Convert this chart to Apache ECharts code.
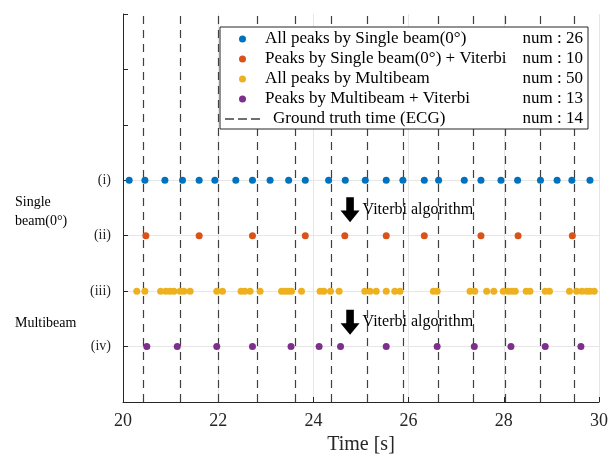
<!DOCTYPE html>
<html><head><meta charset="utf-8">
<script src="https://cdn.jsdelivr.net/npm/echarts@6/dist/echarts.min.js"></script>
<style>html,body{margin:0;padding:0;background:#fff}#c{width:611px;height:454px}</style>
</head><body><div id="c"></div>
<script>
// ---- data ----
const seriesNames = ['All peaks by Single beam(0°)', 'Peaks by Single beam(0°) + Viterbi', 'All peaks by Multibeam', 'Peaks by Multibeam + Viterbi', 'Ground truth time (ECG)'];
const seriesCounts = [26, 10, 50, 13, 14];
const rowLabels = {1: '(iv)', 2: '(iii)', 3: '(ii)', 4: '(i)'};
const rowLevels = [4, 3, 2, 1];
const singleAll = [20.13, 20.46, 20.88, 21.25, 21.60, 21.93, 22.37, 22.72, 23.09, 23.48, 23.83, 24.32, 24.67, 25.09, 25.53, 25.88, 26.33, 26.63, 27.17, 27.52, 27.94, 28.29, 28.77, 29.12, 29.43, 29.81];
const singleViterbi = [20.48, 21.60, 22.72, 23.83, 24.66, 25.53, 26.33, 27.52, 28.30, 29.44];
const multiAll = [20.29, 20.46, 20.79, 20.90, 20.99, 21.07, 21.20, 21.28, 21.41, 21.97, 22.09, 22.48, 22.56, 22.67, 22.88, 23.33, 23.40, 23.47, 23.54, 23.75, 24.14, 24.22, 24.36, 24.54, 25.08, 25.19, 25.32, 25.53, 25.71, 25.82, 26.52, 26.60, 27.29, 27.39, 27.64, 27.79, 27.99, 28.09, 28.17, 28.24, 28.47, 28.55, 28.87, 28.96, 29.38, 29.53, 29.64, 29.74, 29.81, 29.90];
const multiViterbi = [20.50, 21.14, 21.97, 22.72, 23.53, 24.12, 24.57, 25.53, 26.60, 27.38, 28.15, 28.87, 29.62];
const groundTruth = [20.43, 21.20, 22.00, 22.81, 23.61, 24.38, 25.13, 25.89, 26.62, 27.35, 28.03, 28.76, 29.47];
const arrowX = [24.77, 24.77];
const arrowY = [3.47, 1.44];
const arrowText = 'Viterbi algorithm';
const xTicks = {min: 20, max: 30, step: 2};

// ---- chart ----
const colors = ['#0072BD', '#D95319', '#EDB120', '#7E2F8E', '#404040'];
const FONT = '"Liberation Serif", "DejaVu Serif", serif';
const rows = [singleAll, singleViterbi, multiAll, multiViterbi];

const series = rows.map((arr, i) => ({
  name: seriesNames[i], type: 'scatter', symbol: 'circle', symbolSize: 7,
  itemStyle: {color: colors[i], opacity: 1},
  data: arr.map(t => [t, rowLevels[i]]), z: 5
}));
series.push({
  name: seriesNames[4], type: 'line', data: [], color: colors[4], z: 2,
  lineStyle: {color: colors[4]},
  markLine: {
    silent: true, symbol: ['none', 'none'], label: {show: false},
    lineStyle: {color: colors[4], type: [8, 6], width: 1.2, opacity: 1},
    emphasis: {disabled: true},
    data: groundTruth.map(t => ({xAxis: t}))
  }
});
series.push({
  name: 'annot', type: 'scatter', silent: true,
  symbol: 'path://M6,0 H14 V14 H20 L10,26 L0,14 H6 Z', symbolSize: [19, 25],
  itemStyle: {color: '#000', opacity: 1},
  label: {show: true, position: 'right', distance: 3, formatter: arrowText, color: '#000', fontFamily: FONT, fontSize: 16, opacity: 1},
  data: arrowX.map((x, i) => [x, arrowY[i]]), z: 6
});

const dashIcon = 'path://M0,0h9v1.6h-9z M13,0h9v1.6h-9z M26,0h9v1.6h-9z';
const legendData = seriesNames.map((n, i) => ({name: n, icon: i < 4 ? 'circle' : dashIcon}));

const chart = echarts.init(document.getElementById('c'), null, {renderer: 'canvas'});
chart.setOption({
  animation: false,
  backgroundColor: '#fff',
  grid: {left: 123, right: 12, top: 14, bottom: 52, containLabel: false, outerBoundsMode: 'none'},
  xAxis: {
    type: 'value', min: xTicks.min, max: xTicks.max, interval: xTicks.step,
    name: 'Time [s]', nameLocation: 'middle', nameGap: 33,
    nameTextStyle: {fontFamily: FONT, fontSize: 20, color: '#262626'},
    axisLine: {show: true, onZero: false, lineStyle: {color: '#262626', width: 1}},
    axisTick: {show: true, inside: true, length: 5, lineStyle: {color: '#262626'}},
    axisLabel: {fontFamily: FONT, fontSize: 18, color: '#262626', margin: 10},
    splitLine: {show: true, lineStyle: {color: '#e6e6e6', width: 1}}
  },
  yAxis: {
    type: 'value', min: 0, max: 7, interval: 1,
    axisLine: {show: true, lineStyle: {color: '#262626', width: 1}},
    axisTick: {show: true, inside: true, length: 5, lineStyle: {color: '#262626'}},
    axisLabel: {fontFamily: FONT, fontSize: 14, color: '#262626', margin: 12,
      formatter: v => rowLabels[v] || ''},
    splitLine: {show: true, lineStyle: {color: ['transparent', '#e6e6e6', '#e6e6e6', '#e6e6e6', '#e6e6e6', 'transparent', 'transparent', 'transparent'], width: 1}}
  },
  legend: {
    z: 100, zlevel: 1,
    data: legendData, orient: 'vertical', left: 220, top: 27,
    padding: [2, 5, 0, 5], itemGap: 0, itemWidth: 35, itemHeight: 7,
    borderColor: '#262626', borderWidth: 1, backgroundColor: '#fff',
    selectedMode: false,
    textStyle: {fontFamily: FONT, fontSize: 17, color: '#000', lineHeight: 20,
      rich: {
        a: {fontFamily: FONT, fontSize: 17, width: 256, lineHeight: 20},
        g: {fontFamily: FONT, fontSize: 17, width: 248, padding: [0, 0, 0, 8], lineHeight: 20},
        b: {fontFamily: FONT, fontSize: 17, width: 62, align: 'right', lineHeight: 20}
      }},
    formatter: name => {
      const i = seriesNames.indexOf(name);
      return (i === 4 ? '{g|' : '{a|') + name + '}{b|num : ' + seriesCounts[i] + '}';
    }
  },
  graphic: [
    {type: 'text', left: 15, top: 193, style: {text: 'Single\nbeam(0°)', font: '14px ' + FONT, fill: '#000', lineHeight: 19}},
    {type: 'text', left: 15, top: 316, style: {text: 'Multibeam', font: '14px ' + FONT, fill: '#000'}}
  ],
  series: series
});
</script></body></html>
